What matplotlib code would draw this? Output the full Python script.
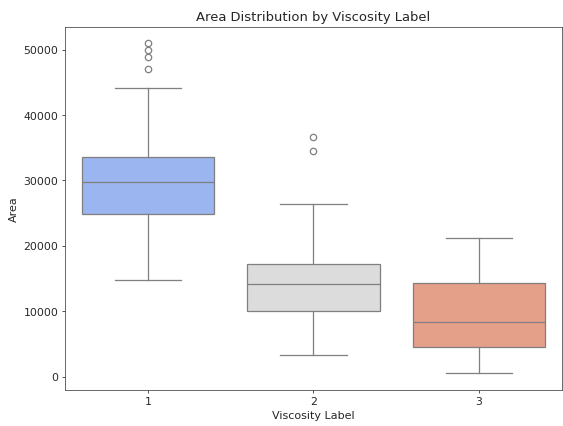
import matplotlib
matplotlib.use("Agg")
import matplotlib.pyplot as plt
import seaborn as sns

# box statistics
labels = ["1", "2", "3"]
q1 = [24920, 10040, 4480]
med = [29740, 14220, 8360]
q3 = [33640, 17170, 14330]
whislo = [14830, 3260, 500]
whishi = [44110, 26450, 21210]
fliers = [[51000, 50000, 48930, 47090], [36700, 34510], []]

colors = sns.color_palette("coolwarm", 3, desat=0.75)
line_col = "#808080"

stats = []
for i in range(len(labels)):
    stats.append(dict(label=labels[i], q1=q1[i], med=med[i], q3=q3[i],
                      whislo=whislo[i], whishi=whishi[i], fliers=fliers[i]))

fig = plt.figure(figsize=(8, 6.06), dpi=70.375)
ax = fig.add_axes([0.1155, 0.0845, 0.8825, 0.852])

bp = ax.bxp(stats, positions=range(len(labels)), widths=0.8, patch_artist=True,
            boxprops=dict(edgecolor=line_col, linewidth=1.3),
            medianprops=dict(color=line_col, linewidth=1.3),
            whiskerprops=dict(color=line_col, linewidth=1.3),
            capprops=dict(color=line_col, linewidth=1.3),
            flierprops=dict(marker="o", markerfacecolor="none", markeredgecolor=line_col,
                            markersize=6.5, markeredgewidth=1.3),
            capwidths=0.4)
for patch, c in zip(bp["boxes"], colors):
    patch.set_facecolor(c)

txt = "#262626"
ax.set_xlim(-0.5, 2.5)
ax.set_ylim(-2025, 53525)
ax.set_xticks(range(len(labels)))
ax.set_xticklabels(labels)
ax.tick_params(labelsize=11.2, colors=txt)
ax.set_xlabel("Viscosity Label", fontsize=11.4, color=txt)
ax.set_ylabel("Area", fontsize=11.4, color=txt)
ax.set_title("Area Distribution by Viscosity Label", fontsize=13.4, color=txt)
for s in ax.spines.values():
    s.set_color("#444444")

fig.savefig("out.png", dpi=70.375)
